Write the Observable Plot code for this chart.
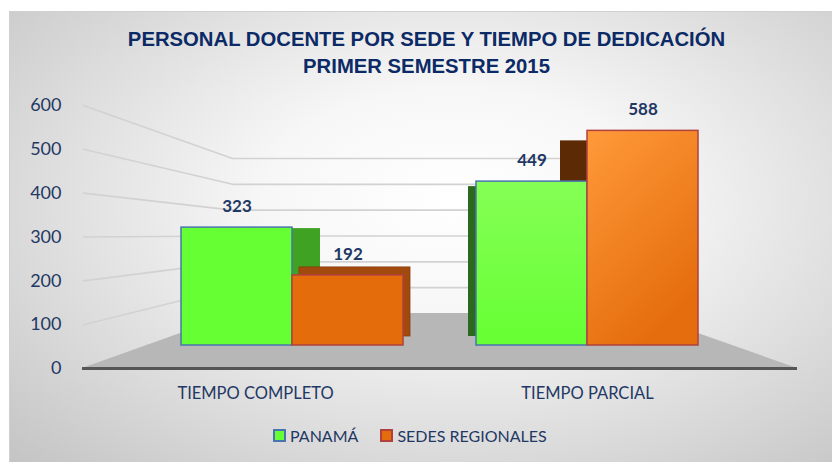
<!DOCTYPE html>
<html><head><meta charset="utf-8">
<script src="https://cdn.jsdelivr.net/npm/d3@7"></script>
<script src="https://cdn.jsdelivr.net/npm/@observablehq/plot@0.6"></script>
<style>
html,body{margin:0;padding:0;background:#fff;}
#chart{position:relative;width:832px;height:462px;overflow:hidden;font-family:Lato,sans-serif;}
#bg{position:absolute;left:9px;top:11px;right:0;bottom:0;
  background:radial-gradient(ellipse farthest-corner at 54% 42%, #ffffff 0%, #f7f7f7 30%, #c4c4c4 100%);
  border-top:1px solid #d0d0d0;border-left:1px solid #d0d0d0;}
.layer{position:absolute;left:0;top:0;}
#title{position:absolute;left:0;width:853px;top:26px;text-align:center;font:bold 20.3px "Liberation Sans",Arial,sans-serif;color:#0b2a66;line-height:27px;}
#legend{position:absolute;left:273px;top:426px;display:flex;align-items:center;font:16px Lato,sans-serif;color:#1f3864;}
#legend .sw{width:9px;height:9px;border:2px solid;margin-right:4px;}
#legend .item{display:flex;align-items:center;margin-right:22px;}
</style></head>
<body>
<div id="chart">
  <div id="bg"></div>
  <div id="title">PERSONAL DOCENTE POR SEDE Y TIEMPO DE DEDICACIÓN<br>PRIMER SEMESTRE 2015</div>
</div>
<script>
// ---- data ----
const categories = ["TIEMPO COMPLETO", "TIEMPO PARCIAL"];
const series = ["PANAMÁ", "SEDES REGIONALES"];
const panama = [323, 449];
const sedes = [192, 588];
const yTicks = [0, 100, 200, 300, 400, 500, 600];

const data = categories.flatMap((c, i) => [
  {cat: c, series: series[0], value: panama[i]},
  {cat: c, series: series[1], value: sedes[i]}
]);

const navy = "#1f3864";
const chart = document.getElementById("chart");

// ---- background layer: walls, floor, y axis ----
const yLeft = Plot.scale({y: {domain: [0, 600], range: [368, 105]}});
const yBack = Plot.scale({y: {domain: [0, 600], range: [313, 158]}});
const backVal = v => yLeft.invert(yBack.apply(v));
const wall = {left: 83, backLeft: 232, backRight: 641, floorLeft: 82, floorRight: 797};

const gridPts = yTicks.filter(v => v > 0).flatMap(v => [
  {v, x: wall.left, y: v},
  {v, x: wall.backLeft, y: backVal(v)},
  {v, x: wall.backRight, y: backVal(v)}
]);
const floorPts = [
  {y: 0, x1: wall.floorLeft, x2: wall.floorRight},
  {y: backVal(0), x1: wall.backLeft + 4, x2: wall.backRight}
];

const bg = Plot.plot({
  width: 832, height: 462,
  marginLeft: 62, marginRight: 0, marginTop: 105, marginBottom: 94,
  x: {domain: [62, 832], axis: null},
  y: {domain: [0, 600], axis: null},
  style: {background: "transparent", fontFamily: "Lato, sans-serif", fontSize: "18px", color: navy},
  marks: [
    Plot.areaX(floorPts, {y: "y", x1: "x1", x2: "x2", fill: "#b7b7b7"}),
    Plot.line(gridPts, {x: "x", y: "y", z: "v", stroke: "#d2d2d2", strokeWidth: 1.6}),
    Plot.ruleY([0], {x1: wall.floorLeft, x2: wall.floorRight, stroke: "#555555", strokeWidth: 3}),
    Plot.axisY(yTicks, {anchor: "left", tickSize: 0, tickPadding: 1, label: null, tickFormat: d => String(d)})
  ]
});
bg.classList.add("layer");
chart.appendChild(bg);

// ---- bars layer ----
const pick = (c, s) => data.filter(d => d.cat === categories[c] && d.series === series[s]);
const barOpts = {fx: "cat", x: "series", y: "value"};

const bars = Plot.plot({
  width: 832, height: 462,
  marginLeft: 181, marginRight: 133, marginTop: 126, marginBottom: 117,
  fx: {domain: categories, paddingInner: 0.247, paddingOuter: 0, axis: null},
  x: {domain: series, padding: 0, axis: null},
  y: {domain: [0, 600], axis: null},
  style: {background: "transparent", overflow: "visible"},
  marks: [
    // depth faces (drawn behind the front faces)
    Plot.barY(pick(0, 0), {...barOpts, fill: "#3fa222", dx: 28, dy: 1, insetBottom: 1}),
    Plot.barY(pick(0, 1), {...barOpts, fill: "#a24a0e", dx: 7, dy: -8, insetBottom: 1, stroke: "#8a3a0a", strokeWidth: 0.8}),
    Plot.barY(pick(1, 0), {...barOpts, fill: "#2b6a1c", dx: -8, dy: 5, insetBottom: 14}),
    Plot.barY(pick(1, 1), {...barOpts, fill: "#5c2a05", dx: -27, dy: 10, insetBottom: 10}),
    // front faces
    Plot.barY(pick(0, 0), {...barOpts, fill: "#66ff33", stroke: "#4a74b0", strokeWidth: 1.5}),
    Plot.barY(pick(0, 1), {...barOpts, fill: "#e46c0a", stroke: "#b0413e", strokeWidth: 1.5}),
    Plot.barY(pick(1, 0), {...barOpts, fill: "url(#gGreen)", stroke: "#4a74b0", strokeWidth: 1.5}),
    Plot.barY(pick(1, 1), {...barOpts, fill: "url(#gOrange)", stroke: "#b0413e", strokeWidth: 1.5}),
    // value labels
    Plot.text(data, {...barOpts, text: d => String(d.value), dy: -21,
      fontWeight: "bold", fontSize: 17, fontFamily: "Lato, sans-serif", fill: navy})
  ]
});
bars.classList.add("layer");
const defs = d3.select(bars).insert("defs", ":first-child");
const gg = defs.append("linearGradient").attr("id", "gGreen").attr("x1", 0).attr("y1", 0).attr("x2", 0).attr("y2", 1);
gg.append("stop").attr("offset", "0%").attr("stop-color", "#85ff55");
gg.append("stop").attr("offset", "100%").attr("stop-color", "#66ff33");
const go = defs.append("linearGradient").attr("id", "gOrange").attr("x1", 0).attr("y1", 0).attr("x2", 0.5).attr("y2", 1);
go.append("stop").attr("offset", "0%").attr("stop-color", "#ff9a3a");
go.append("stop").attr("offset", "100%").attr("stop-color", "#e56d0d");
chart.appendChild(bars);

// ---- category labels layer ----
const cats = Plot.plot({
  width: 832, height: 462,
  marginLeft: 254.5, marginRight: 245.5, marginTop: 0, marginBottom: 75,
  x: {type: "point", domain: categories, padding: 0},
  style: {background: "transparent", fontFamily: "Lato, sans-serif", fontSize: "16.5px", color: navy},
  marks: [Plot.axisX({anchor: "bottom", tickSize: 0, tickPadding: 0, label: null})]
});
cats.classList.add("layer");
chart.appendChild(cats);

// ---- legend ----
const legendColors = [["#66ff33", "#4a74b0"], ["#e46c0a", "#b0413e"]];
const legend = document.createElement("div");
legend.id = "legend";
series.forEach((s, i) => {
  const item = document.createElement("div");
  item.className = "item";
  const sw = document.createElement("div");
  sw.className = "sw";
  sw.style.background = legendColors[i][0];
  sw.style.borderColor = legendColors[i][1];
  item.appendChild(sw);
  item.appendChild(document.createTextNode(s));
  legend.appendChild(item);
});
chart.appendChild(legend);
// keep title on top
chart.appendChild(document.getElementById("title"));
</script>
</body></html>
